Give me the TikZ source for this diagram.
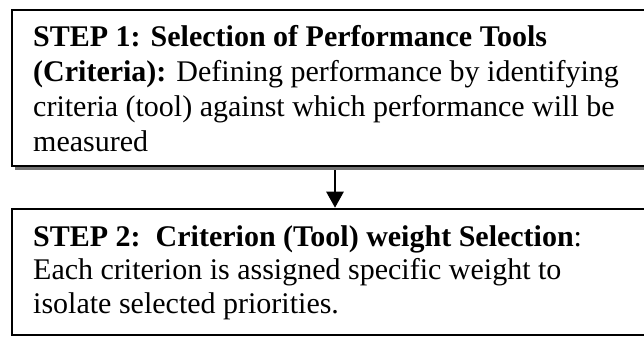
\documentclass[tikz,border=0pt]{standalone}
\usepackage{fontspec}
\setmainfont{Liberation Serif}
\usetikzlibrary{arrows.meta}
\begin{document}
\begin{tikzpicture}[x=1pt,y=1pt,
  stepbox/.style={draw=black, fill=white, line width=2.5pt, inner sep=0pt, minimum width=668pt},
  shadowbox/.style={fill=black!55, draw=none, inner sep=0pt, minimum width=668pt},
  line/.style={anchor=base west, inner sep=0pt, font=\fontsize{30}{34}\selectfont},
  conn/.style={line width=2.5pt, -{Triangle[width=17pt,length=16pt]}}]
\useasboundingbox (0,0) rectangle (644,337);
\clip (0,0) rectangle (644,337);
% shadow and box 1
\node[shadowbox, minimum height=156pt] (sh1) at (349,245) {};
\node[stepbox, minimum height=156pt] (b1) at (346,249) {};
\node[line] (l11) at (33,290) {\textbf{STEP 1: Selection of Performance Tools}};
\node[line] (l12) at (33,255) {\textbf{(Criteria):} Defining performance by identifying};
\node[line] (l13) at (33,220) {criteria (tool) against which performance will be};
\node[line] (l14) at (33,185) {measured};
% box 2
\node[stepbox, minimum height=126pt] (b2) at (346,65) {};
\node[line] (l21) at (33,90) {\textbf{STEP 2:\ \ Criterion (Tool) weight Selection}:};
\node[line] (l22) at (33,57) {Each criterion is assigned specific weight to};
\node[line] (l23) at (33,24) {isolate selected priorities.};
% connector
\coordinate (a1) at (335,0 |- sh1.south);
\coordinate (a2) at (335,0 |- b2.north);
\draw[conn] (a1) -- (a2);
\end{tikzpicture}
\end{document}
